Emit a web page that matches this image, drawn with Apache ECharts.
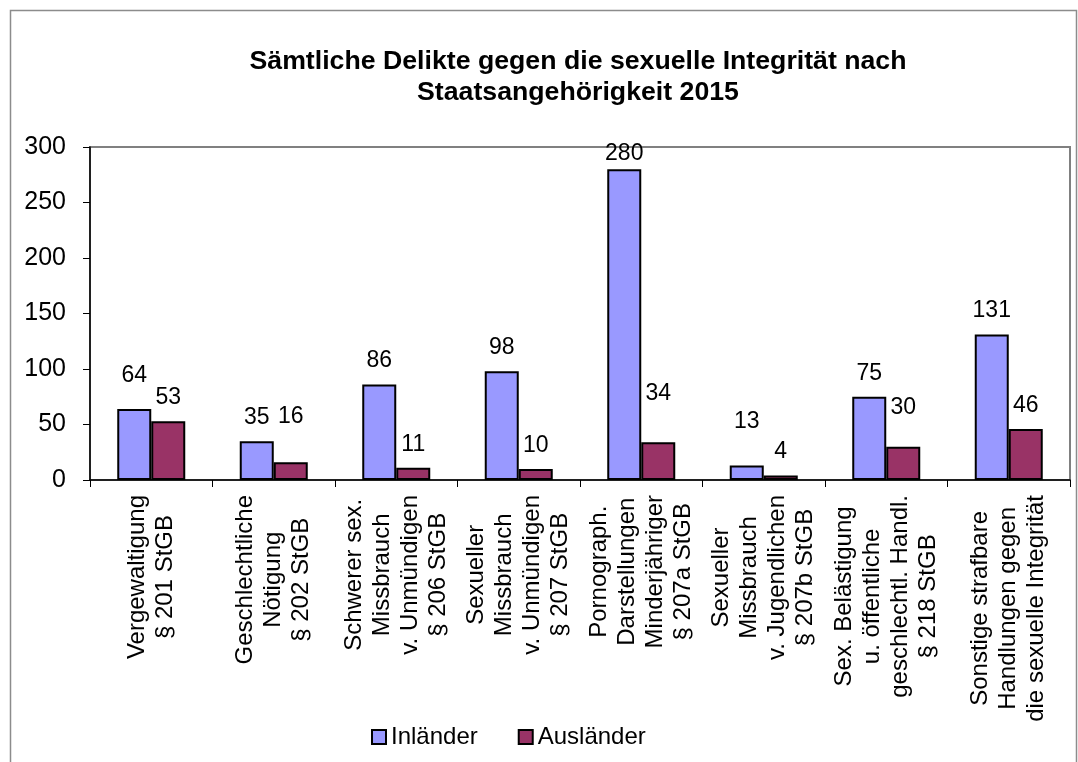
<!DOCTYPE html>
<html>
<head>
<meta charset="utf-8">
<script src="https://cdn.jsdelivr.net/npm/echarts@6/dist/echarts.min.js"></script>
<style>
  html, body { margin: 0; padding: 0; background: #fff; }
  #chart { width: 1078px; height: 762px; }
</style>
</head>
<body>
<div id="chart"></div>
<script>
const categories = [
  'Vergewaltigung\n§ 201 StGB',
  'Geschlechtliche\nNötigung\n§ 202 StGB',
  'Schwerer sex.\nMissbrauch\nv. Unmündigen\n§ 206 StGB',
  'Sexueller\nMissbrauch\nv. Unmündigen\n§ 207 StGB',
  'Pornograph.\nDarstellungen\nMinderjähriger\n§ 207a StGB',
  'Sexueller\nMissbrauch\nv. Jugendlichen\n§ 207b StGB',
  'Sex. Belästigung\nu. öffentliche\ngeschlechtl. Handl.\n§ 218 StGB',
  'Sonstige strafbare\nHandlungen gegen\ndie sexuelle Integrität'
];
const inlaender = [64, 35, 86, 98, 280, 13, 75, 131];
const auslaender = [53, 16, 11, 10, 34, 4, 30, 46];

// some labels sit higher/lower than the default, like in the original
const liftInl = { 0: 10, 4: -8, 5: 20 };
const liftAus = { 1: 22, 4: 25, 6: 16 };

const font = '"Liberation Sans", Arial, sans-serif';

const withLabels = (values, lift) => values.map((v, i) => ({
  value: v,
  label: { distance: 12 + (lift[i] || 0) }
}));

const chart = echarts.init(document.getElementById('chart'));

chart.setOption({
  animation: false,
  title: {
    text: 'Sämtliche Delikte gegen die sexuelle Integrität nach\nStaatsangehörigkeit 2015',
    left: 573,
    top: 41,
    textAlign: 'center',
    textStyle: {
      fontFamily: font,
      fontSize: 26.7,
      fontWeight: 'bold',
      color: '#000',
      lineHeight: 31
    }
  },
  legend: {
    left: 366,
    top: 720,
    itemWidth: 14,
    itemHeight: 14,
    itemGap: 40,
    icon: 'rect',
    textStyle: { fontFamily: font, fontSize: 24, color: '#000' },
    data: ['Inländer', 'Ausländer']
  },
  graphic: [{
    type: 'rect',
    shape: { x: 10.5, y: 10.5, width: 1066, height: 780 },
    style: { fill: 'none', stroke: '#8c8c8c', lineWidth: 1.5 },
    silent: true
  }],
  grid: {
    left: 90,
    top: 147,
    right: 8,
    bottom: 282,
    show: true,
    borderColor: '#808080',
    borderWidth: 2,
    containLabel: false
  },
  xAxis: {
    type: 'category',
    data: categories,
    axisLine: { lineStyle: { color: '#000', width: 1.5 } },
    axisTick: { show: true, length: 7, lineStyle: { color: '#000' } },
    axisLabel: {
      interval: 0,
      rotate: 90,
      margin: 15,
      formatter: (v) => v.split('\n').map(s => '{c|' + s + '}').join('\n'),
      rich: {
        c: {
          align: 'center',
          fontFamily: font,
          fontSize: 24,
          lineHeight: 28,
          color: '#000'
        }
      }
    }
  },
  yAxis: {
    type: 'value',
    min: 0,
    max: 300,
    interval: 50,
    splitLine: { show: false },
    axisLine: { show: true, lineStyle: { color: '#000', width: 1.5 } },
    axisTick: { show: true, length: 7, lineStyle: { color: '#000' } },
    axisLabel: {
      margin: 24,
      fontFamily: font,
      fontSize: 25,
      color: '#000'
    }
  },
  series: [
    {
      name: 'Inländer',
      type: 'bar',
      data: withLabels(inlaender, liftInl),
      barWidth: 34,
      barGap: '0%',
      itemStyle: { color: '#9999FF', borderColor: '#000', borderWidth: 2 },
      label: {
        show: true,
        position: 'top',
        fontFamily: font,
        fontSize: 23,
        color: '#000'
      }
    },
    {
      name: 'Ausländer',
      type: 'bar',
      data: withLabels(auslaender, liftAus),
      barWidth: 34,
      barGap: '0%',
      itemStyle: { color: '#993366', borderColor: '#000', borderWidth: 2 },
      label: {
        show: true,
        position: 'top',
        fontFamily: font,
        fontSize: 23,
        color: '#000'
      }
    }
  ]
});
</script>
</body>
</html>
